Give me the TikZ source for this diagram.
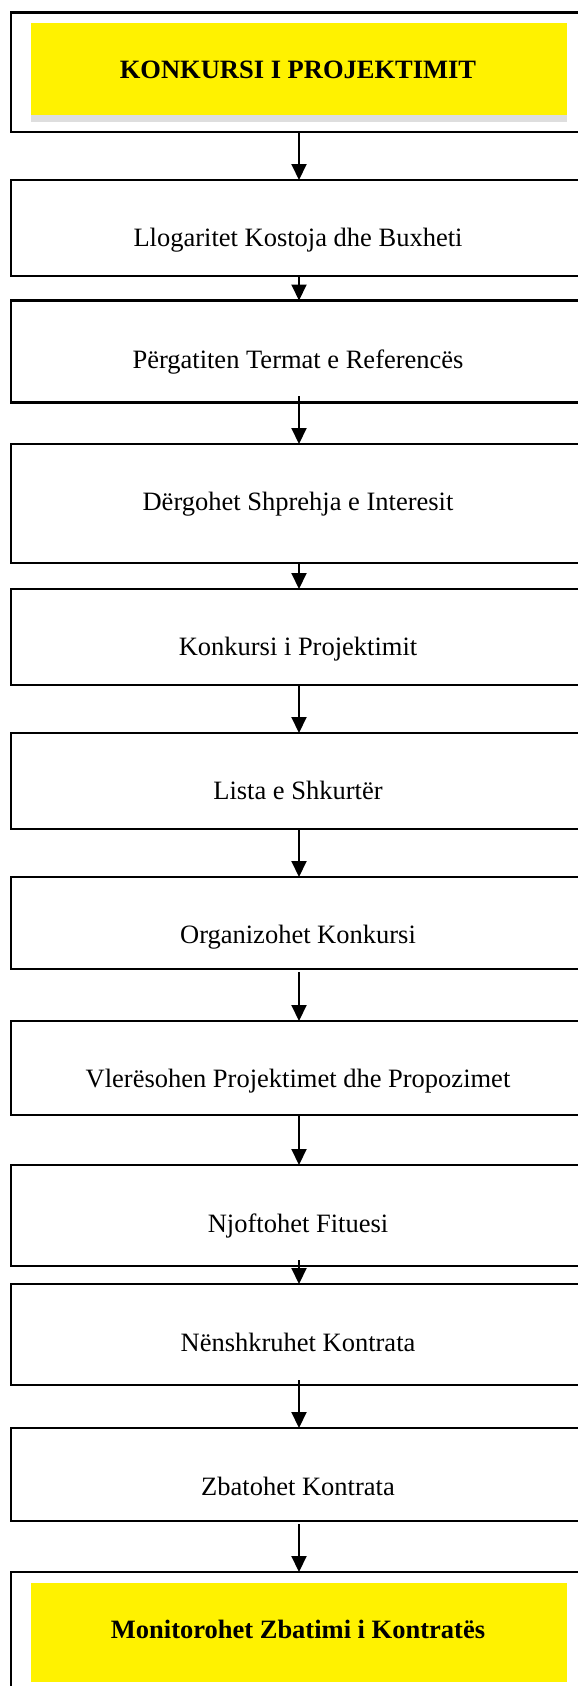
\documentclass[tikz,border=0pt]{standalone}
\usepackage{fontspec}
\setmainfont{Liberation Serif}
\usetikzlibrary{arrows.meta}

\tikzset{
  stepbox/.style={draw=black, line width=2.2pt, inner sep=0pt, outer sep=0pt,
    minimum width=576pt, rectangle},
  hilite/.style={fill=yellow, draw=none, inner sep=0pt, outer sep=0pt,
    minimum width=536pt, rectangle},
  steptext/.style={font=\fontsize{26.5}{30}\selectfont, anchor=base, inner sep=0pt},
  boldtext/.style={steptext, font=\fontsize{26.5}{30}\selectfont\bfseries},
  flow/.style={line width=2pt, -{Triangle[width=15pt,length=16pt]}},
}

\begin{document}
\begin{tikzpicture}[x=1pt, y=-1pt]
  \useasboundingbox (0,0) rectangle (578,1686);
  \clip (0,0) rectangle (578,1686);

  % frames of the process steps (right edge runs past the page)
  \node[stepbox, minimum height=119.5pt] (b1)  at (299,72.25)  {};
  \node[stepbox, minimum height=96pt]    (b2)  at (299,228)    {};
  \node[stepbox, minimum height=102pt]   (b3)  at (299,351.5)  {};
  \node[stepbox, minimum height=119pt]   (b4)  at (299,503.5)  {};
  \node[stepbox, minimum height=96pt]    (b5)  at (299,637)    {};
  \node[stepbox, minimum height=96pt]    (b6)  at (299,781)    {};
  \node[stepbox, minimum height=92pt]    (b7)  at (299,923)    {};
  \node[stepbox, minimum height=94pt]    (b8)  at (299,1068)   {};
  \node[stepbox, minimum height=101pt]   (b9)  at (299,1215.5) {};
  \node[stepbox, minimum height=101pt]   (b10) at (299,1334.5) {};
  \node[stepbox, minimum height=93pt]    (b11) at (299,1474.5) {};
  \node[stepbox, minimum height=140pt]   (b12) at (299,1642)   {};

  % highlighted title and closing step
  \fill[black!13] (31,115) rectangle (567,122);
  \node[hilite, minimum height=92pt] (y1)  at (299,69)     {};
  \node[hilite, minimum height=99pt] (y12) at (299,1632.5) {};

  % step texts
  \node[boldtext] (t1)  at (298,78)   {KONKURSI I PROJEKTIMIT};
  \node[steptext] (t2)  at (298,246)  {Llogaritet Kostoja dhe Buxheti};
  \node[steptext] (t3)  at (298,368)  {Përgatiten Termat e Referencës};
  \node[steptext] (t4)  at (298,510)  {Dërgohet Shprehja e Interesit};
  \node[steptext] (t5)  at (298,655)  {Konkursi i Projektimit};
  \node[steptext] (t6)  at (298,799)  {Lista e Shkurtër};
  \node[steptext] (t7)  at (298,943)  {Organizohet Konkursi};
  \node[steptext] (t8)  at (298,1087) {Vlerësohen Projektimet dhe Propozimet};
  \node[steptext] (t9)  at (298,1232) {Njoftohet Fituesi};
  \node[steptext] (t10) at (298,1351) {Nënshkruhet Kontrata};
  \node[steptext] (t11) at (298,1495) {Zbatohet Kontrata};
  \node[boldtext] (t12) at (298,1638) {Monitorohet Zbatimi i Kontratës};

  % connectors
  \draw[flow] (b1.south) -- (b2.north);
  \draw[flow] (b2.south) -- (b3.north);
  \draw[flow] ([yshift=6.5pt]b3.south) -- (b4.north);
  \draw[flow] (b4.south) -- (b5.north);
  \draw[flow] (b5.south) -- (b6.north);
  \draw[flow] (b6.south) -- (b7.north);
  \draw[flow] ([yshift=-3pt]b7.south) -- (b8.north);
  \draw[flow] (b8.south) -- (b9.north);
  \draw[flow] ([yshift=6pt]b9.south) -- (b10.north);
  \draw[flow] ([yshift=5pt]b10.south) -- (b11.north);
  \draw[flow] ([yshift=-3pt]b11.south) -- (b12.north);
\end{tikzpicture}
\end{document}
